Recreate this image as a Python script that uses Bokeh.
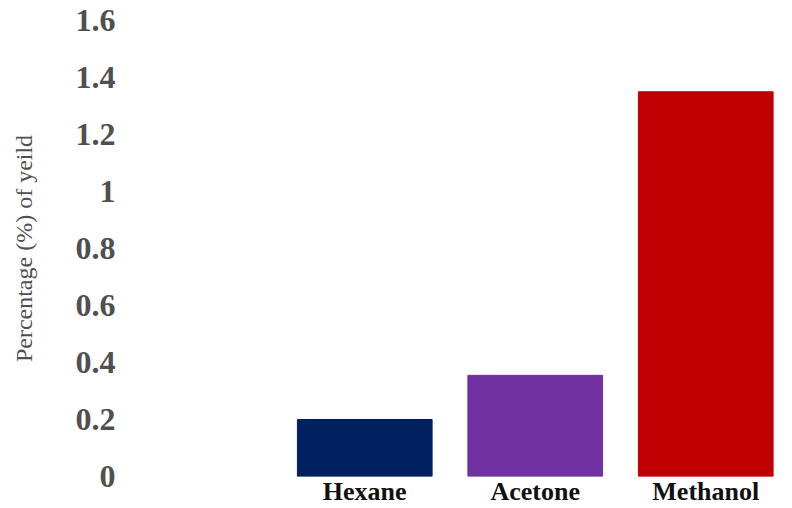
from bokeh.plotting import figure
from bokeh.models import Range1d, FixedTicker, NumeralTickFormatter, ColumnDataSource
from bokeh.embed import file_html
from bokeh.resources import INLINE

categories = ["Hexane", "Acetone", "Methanol"]
yields = [0.2, 0.355, 1.35]
colors = ["#002060", "#7030A0", "#C00000"]
y_ticks = [0, 0.2, 0.4, 0.6, 0.8, 1.0, 1.2, 1.4, 1.6]

positions = [i + 1 for i in range(len(categories))]
src = ColumnDataSource(dict(x=positions, top=yields, color=colors))

p = figure(width=792, height=508, output_backend="svg", toolbar_location=None,
           x_range=Range1d(-0.415, 3.503), y_range=Range1d(0, 1.6),
           min_border_left=123, min_border_right=1, min_border_top=20,
           min_border_bottom=32)
p.vbar(x="x", top="top", bottom=0, width=0.79, color="color", source=src)

p.grid.visible = False
p.outline_line_color = None
p.background_fill_color = "white"
p.border_fill_color = "white"

ya = p.yaxis[0]
ya.ticker = FixedTicker(ticks=y_ticks)
ya.formatter = NumeralTickFormatter(format="0.[0]")
ya.axis_line_color = None
ya.major_tick_line_color = None
ya.minor_tick_line_color = None
ya.major_tick_out = 0
ya.major_tick_in = 0
ya.minor_tick_out = 0
ya.major_label_text_font = "Liberation Serif"
ya.major_label_text_font_style = "bold"
ya.major_label_text_font_size = "32px"
ya.major_label_text_color = "#505050"
ya.major_label_standoff = 8
ya.axis_label = "Percentage (%) of yeild"
ya.axis_label_text_font = "Liberation Serif"
ya.axis_label_text_font_style = "normal"
ya.axis_label_text_font_size = "24px"
ya.axis_label_text_color = "#505050"
ya.axis_label_standoff = 36

xa = p.xaxis[0]
xa.ticker = FixedTicker(ticks=positions)
xa.major_label_overrides = {pos: name for pos, name in zip(positions, categories)}
xa.axis_line_color = None
xa.major_tick_line_color = None
xa.minor_tick_line_color = None
xa.major_tick_out = 0
xa.major_tick_in = 0
xa.minor_tick_out = 0
xa.major_label_text_font = "Liberation Serif"
xa.major_label_text_font_style = "bold"
xa.major_label_text_font_size = "26px"
xa.major_label_text_color = "#111111"
xa.major_label_standoff = 0

open("out.html", "w").write(file_html(p, INLINE))
